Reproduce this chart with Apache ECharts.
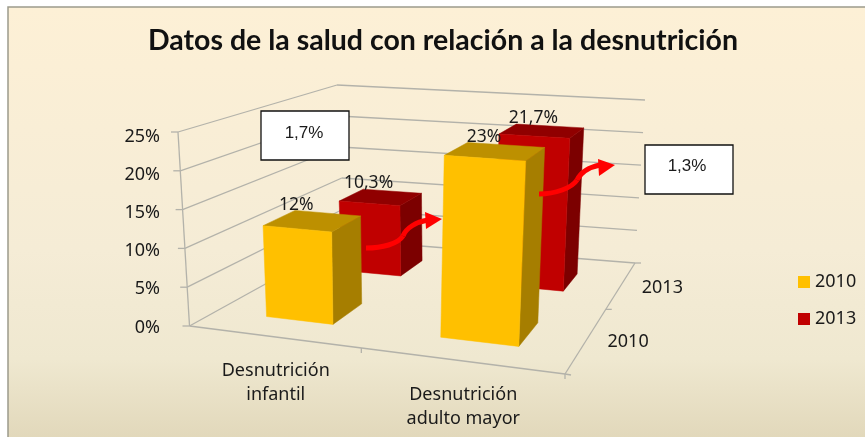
<!DOCTYPE html>
<html><head><meta charset="utf-8">
<style>html,body{margin:0;padding:0;background:#fff}#c{width:865px;height:437px}</style>
<script src="https://cdn.jsdelivr.net/npm/echarts@6/dist/echarts.min.js"></script>
</head><body><div id="c"></div>
<script>
// ---- data ----
const chartTitle = 'Datos de la salud con relación a la desnutrición';
const categories = ['Desnutrición\ninfantil', '\nDesnutrición\nadulto mayor'];
const years = ['2010', '2013'];
const values2010 = [12, 23];
const values2013 = [10.3, 21.7];
const labels2010 = ['12%', '23%'];
const labels2013 = ['10,3%', '21,7%'];
const yTicks = [0, 5, 10, 15, 20, 25];
const notes = ['1,7%', '1,3%'];

// ---- projection of the plot box (unit cube -> screen) ----
const FLOOR = {A:[189.5,326], B:[565,374], C:[635,263], D:[345,240]};
const TOP   = {A:[178,132],   B:[575,160], C:[645,100], D:[337,85]};
function homography(q){
  const dx1=q.B[0]-q.C[0], dy1=q.B[1]-q.C[1], dx2=q.D[0]-q.C[0], dy2=q.D[1]-q.C[1];
  const sx=q.A[0]-q.B[0]+q.C[0]-q.D[0], sy=q.A[1]-q.B[1]+q.C[1]-q.D[1];
  const den=dx1*dy2-dx2*dy1, g=(sx*dy2-dx2*sy)/den, h=(dx1*sy-sx*dy1)/den;
  const a=q.B[0]-q.A[0]+g*q.B[0], b=q.D[0]-q.A[0]+h*q.D[0], c=q.A[0];
  const d=q.B[1]-q.A[1]+g*q.B[1], e=q.D[1]-q.A[1]+h*q.D[1], f=q.A[1];
  return (u,w)=>{const k=g*u+h*w+1;return [(a*u+b*w+c)/k,(d*u+e*w+f)/k];};
}
const floorH=homography(FLOOR), topH=homography(TOP);
function P(u,v,w){const p=floorH(u,w),t=topH(u,w);return [p[0]+(t[0]-p[0])*v,p[1]+(t[1]-p[1])*v];}

const BAR_HALF=0.1, U_SHIFT=0.007;
const DEPTH={ '2010':[0.14,0.33], '2013':[0.63,0.82] };
const SHADES={ '2010':{front:'#FFC000',top:'#BD9000',side:'#A67E00'},
               '2013':{front:'#C00000',top:'#900000',side:'#7C0000'} };
const GRID_COL='#b3b2aa', TEXT_COL='#1a1a1a', FONT='"Noto Sans"';
const GRID={left:182,top:136.5,width:375,height:191};

function poly(points,fill){return {type:'polygon',shape:{points},style:{fill,stroke:fill,lineWidth:0.5}};}
function barRenderer(year,labels){
  return function(params,api){
    const cs=params.coordSys, idx=api.value(0), val=api.value(1);
    const base=api.coord([idx,0]), tip=api.coord([idx,val]);
    const uc=(base[0]-cs.x)/cs.width+U_SHIFT, v=(base[1]-tip[1])/cs.height;
    const u0=uc-BAR_HALF,u1=uc+BAR_HALF,[w0,w1]=DEPTH[year],s=SHADES[year];
    const fbl=P(u0,0,w0),fbr=P(u1,0,w0),bbr=P(u1,0,w1);
    const ftl=P(u0,v,w0),ftr=P(u1,v,w0),btr=P(u1,v,w1),btl=P(u0,v,w1);
    return {type:'group',children:[
      poly([fbr,bbr,btr,ftr],s.side),
      poly([ftl,ftr,btr,btl],s.top),
      poly([fbl,fbr,ftr,ftl],s.front),
      {type:'text',x:(ftl[0]+ftr[0])/2-1,y:(btl[1]+btr[1])/2-8,z2:5,
       style:{text:labels[idx],fill:TEXT_COL,font:'17.5px '+FONT,align:'center',verticalAlign:'middle'}}
    ]};
  };
}
function line(a,b){return {type:'line',shape:{x1:a[0],y1:a[1],x2:b[0],y2:b[1]},style:{stroke:GRID_COL,lineWidth:1.3}};}
function wallRenderer(params,api){
  const cs=params.coordSys,v=(cs.y+cs.height-api.coord([0,api.value(1)])[1])/cs.height;
  const a=P(0,v,0),b=P(0,v,1),c=P(1,v,1);
  return {type:'group',children:[line(a,b),line(b,c),line(a,[a[0]-7,a[1]])]};
}
function frameRenderer(){
  const A=P(0,0,0),B=P(1,0,0),C=P(1,0,1),E=P(0,1,0),midF=P(.5,0,0),midR=P(1,0,.5);
  const kids=[line(A,B),line(B,C),line(A,E),
    line(midF,[midF[0],midF[1]+5]),line(B,[B[0]+6,B[1]+1]),line(B,[B[0],B[1]+5]),
    line(midR,[midR[0]+6,midR[1]]),line(C,[C[0]+6,C[1]])];
  const pos=[.2,.68];
  years.forEach((y,i)=>{const p=P(1,0,pos[i]);
    kids.push({type:'text',x:p[0]+45,y:p[1]-3,style:{text:y,fill:TEXT_COL,font:'18px '+FONT,align:'center',verticalAlign:'middle'}});});
  return {type:'group',children:kids};
}
function bez(a,c1,c2,b){return {type:'bezierCurve',z:100,shape:{x1:a[0],y1:a[1],cpx1:c1[0],cpy1:c1[1],cpx2:c2[0],cpy2:c2[1],x2:b[0],y2:b[1]},style:{stroke:'#FF0000',lineWidth:5,fill:null}};}
function head(p){return {type:'polygon',z:100,shape:{points:p},style:{fill:'#FF0000'}};}
function box(x,y,t,tx,ty){return [
  {type:'rect',z:100,shape:{x,y,width:88,height:49},style:{fill:'#fff',stroke:'#111',lineWidth:1.3}},
  {type:'text',z:101,x:tx,y:ty,style:{text:t,fill:'#1a1a1a',font:'17px "Liberation Sans"',align:'center',verticalAlign:'middle'}}];}

const chart=echarts.init(document.getElementById('c'),null,{renderer:'canvas'});
chart.setOption({
  animation:false,
  backgroundColor:'#ffffff',
  title:{text:chartTitle,left:438,top:21,textAlign:'center',textStyle:{fontFamily:'Lato',fontWeight:'bold',fontSize:28.5,color:'#111'}},
  legend:{data:years,orient:'vertical',left:793,top:268,itemWidth:12,itemHeight:12,itemGap:19,itemStyle:{borderWidth:0},icon:'rect',
    textStyle:{fontFamily:FONT,fontSize:18,color:TEXT_COL}},
  grid:GRID,
  xAxis:{type:'category',data:categories,axisLine:{show:false},axisTick:{show:false},splitLine:{show:false},
    axisLabel:{interval:0,margin:31.5,fontFamily:FONT,fontSize:18,lineHeight:24,color:TEXT_COL,verticalAlign:'top'}},
  yAxis:{type:'value',min:0,max:25,interval:5,axisLine:{show:false},axisTick:{show:false},splitLine:{show:false},
    axisLabel:{formatter:'{value}%',margin:22,fontFamily:FONT,fontSize:18,color:TEXT_COL}},
  series:[
    {type:'custom',name:'walls',z:1,silent:true,data:yTicks.map(t=>[0,t]),encode:{x:0,y:1},renderItem:wallRenderer},
    {type:'custom',name:'frame',z:1,silent:true,data:[[0,0]],encode:{x:0,y:1},renderItem:frameRenderer},
    {type:'custom',name:'2013',z:2,data:values2013.map((v,i)=>[i,v]),encode:{x:0,y:1},itemStyle:{color:SHADES['2013'].front},renderItem:barRenderer('2013',labels2013)},
    {type:'custom',name:'2010',z:3,data:values2010.map((v,i)=>[i,v]),encode:{x:0,y:1},itemStyle:{color:SHADES['2010'].front},renderItem:barRenderer('2010',labels2010)}
  ],
  graphic:{elements:[
    {type:'rect',z:-10,silent:true,shape:{x:8,y:7,width:870,height:440},
     style:{stroke:'#9c9a8c',lineWidth:1.5,fill:{type:'linear',x:0,y:0,x2:0,y2:1,colorStops:[
       {offset:0,color:'#fdf0d6'},{offset:.55,color:'#f5ecd6'},{offset:.8,color:'#efe8d0'},{offset:1,color:'#e0d6b8'}]}}},
    ...box(261,111,notes[0],304,133),
    ...box(645,145,notes[1],687,166),
    bez([366,248],[382,248],[398,244],[403,236]),
    bez([403,236],[406,228],[416,222],[428,220]),
    head([[442,219],[425,212],[426,229]]),
    bez([539,194],[555,194],[572,188],[577,180]),
    bez([577,180],[581,172],[590,167],[600,165]),
    head([[615,165],[598,159],[599,176]])
  ]}
});
</script></body></html>
